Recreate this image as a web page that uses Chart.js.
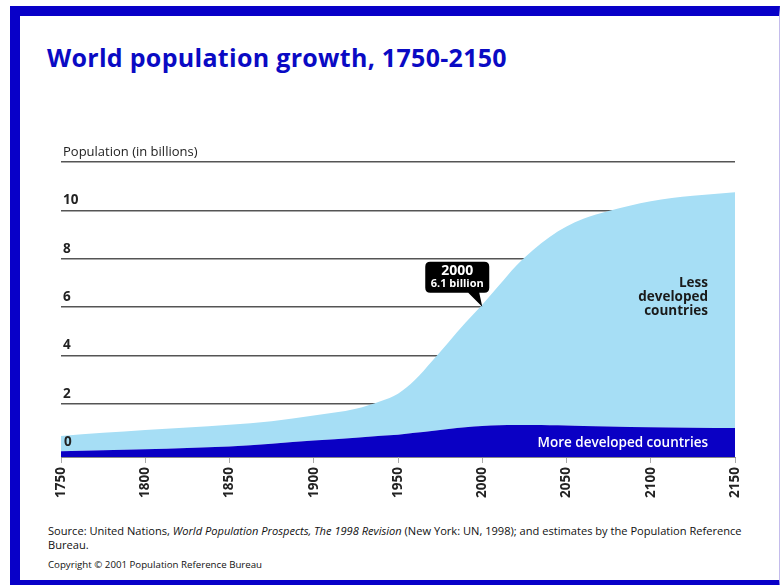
<!DOCTYPE html>
<html>
<head>
<meta charset="utf-8">
<script src="https://cdn.jsdelivr.net/npm/chart.js@4.4.1/dist/chart.umd.min.js"></script>
<style>
  html, body { margin: 0; padding: 0; background: #fff; }
  body { width: 780px; height: 585px; position: relative; overflow: hidden; font-family: "Open Sans", sans-serif; }
  #frame {
    position: absolute; left: 10px; top: 6px; width: 759px; height: 564px;
    border-left: 10px solid #0800c8; border-top: 10px solid #0800c8;
    border-bottom: 10px solid #0800c8; border-right: 1px solid #c4bcec;
  }
  #title {
    position: absolute; left: 47px; top: 43px; margin: 0;
    font-size: 25px; font-weight: bold; color: #0a0ac4; line-height: 28px; white-space: nowrap;
    letter-spacing: 0.3px;
  }
  #source {
    position: absolute; left: 48px; top: 524px; font-size: 11.1px; line-height: 14px; color: #111;
  }
  #copyright {
    position: absolute; left: 48px; top: 559px; font-size: 9.7px; line-height: 12px; color: #111;
  }
  canvas { position: absolute; left: 0; top: 0; }
</style>
</head>
<body>
<div id="frame"></div>
<div id="title">World population growth, 1750-2150</div>
<div id="source"><span style="white-space:nowrap">Source: United Nations, <i>World Population Prospects, The 1998 Revision</i> (New York: UN, 1998); and estimates by the Population Reference</span><br>Bureau.</div>
<div id="copyright">Copyright © 2001 Population Reference Bureau</div>
<canvas id="popChart" width="780" height="585"></canvas>
<script>
// values, billions
var years = [1750, 1775, 1800, 1825, 1850, 1875, 1900, 1925, 1940, 1950, 1960, 1970, 1980, 1990,
             2000, 2010, 2020, 2030, 2040, 2050, 2060, 2075, 2100, 2125, 2150];
var worldTotal = [0.67, 0.80, 0.92, 1.02, 1.13, 1.28, 1.52, 1.80, 2.12, 2.42, 2.98, 3.75, 4.55, 5.35,
                  6.10, 6.90, 7.70, 8.35, 8.90, 9.33, 9.65, 9.97, 10.38, 10.60, 10.75];
var moreDeveloped = [0.04, 0.08, 0.12, 0.17, 0.23, 0.35, 0.48, 0.60, 0.68, 0.72, 0.80, 0.88, 0.96, 1.03,
                     1.08, 1.11, 1.12, 1.12, 1.11, 1.10, 1.08, 1.06, 1.03, 1.01, 1.00];
var yearTicks = [1750, 1800, 1850, 1900, 1950, 2000, 2050, 2100, 2150];
var popTicks = [0, 2, 4, 6, 8, 10, 12];
var calloutYear = 2000;
var calloutValue = 6.1;

var DARK = '#0a00c4';
var LIGHT = '#a6def5';
var FONT = '"Open Sans", sans-serif';

function points(vals) {
    return years.map(function (yr, i) { return { x: yr, y: vals[i] }; });
}

var labelsPlugin = {
    id: 'labels',
    afterDatasetsDraw: function (chart) {
        var ctx = chart.ctx;
        var xs = chart.scales.x, ys = chart.scales.y;
        ctx.save();
        // the 0 tick label sits on top of the fill
        ctx.textAlign = 'left';
        ctx.textBaseline = 'middle';
        ctx.font = 'bold 13.5px ' + FONT;
        ctx.fillStyle = '#222';
        ctx.fillText('0', chart.chartArea.left + 3, ys.getPixelForValue(0) - 10);

        // area labels
        ctx.textAlign = 'right';
        ctx.font = 'bold 13.5px ' + FONT;
        ctx.fillStyle = '#1a1a1a';
        ctx.fillText('Less', 708, 283);
        ctx.fillText('developed', 708, 297);
        ctx.fillText('countries', 708, 311);
        ctx.fillStyle = '#ffffff';
        ctx.font = '600 13.5px ' + FONT;
        ctx.fillText('More developed countries', 708, 443);

        // callout for 2000
        var tx = xs.getPixelForValue(calloutYear);
        var ty = ys.getPixelForValue(calloutValue);
        var left = tx - 57, top = ty - 43, w = 64, h = 31, r = 5;
        ctx.fillStyle = '#000';
        ctx.beginPath();
        ctx.moveTo(left + r, top);
        ctx.lineTo(left + w - r, top);
        ctx.quadraticCurveTo(left + w, top, left + w, top + r);
        ctx.lineTo(left + w, top + h - r);
        ctx.quadraticCurveTo(left + w, top + h, left + w - r, top + h);
        ctx.lineTo(tx - 3, top + h);
        ctx.lineTo(tx, ty + 2);
        ctx.lineTo(tx - 14, top + h);
        ctx.lineTo(left + r, top + h);
        ctx.quadraticCurveTo(left, top + h, left, top + h - r);
        ctx.lineTo(left, top + r);
        ctx.quadraticCurveTo(left, top, left + r, top);
        ctx.closePath();
        ctx.fill();
        ctx.fillStyle = '#fff';
        ctx.textAlign = 'center';
        ctx.font = 'bold 14px ' + FONT;
        ctx.fillText(String(calloutYear), left + w / 2, top + 9);
        ctx.font = 'bold 11px ' + FONT;
        ctx.fillText(calloutValue + ' billion', left + w / 2, top + 22);
        ctx.restore();
    }
};

new Chart(document.getElementById('popChart').getContext('2d'), {
    type: 'line',
    data: {
        datasets: [{
            label: 'More developed countries',
            data: points(moreDeveloped),
            backgroundColor: DARK,
            borderWidth: 0,
            pointRadius: 0,
            fill: 'start',
            cubicInterpolationMode: 'monotone'
        }, {
            label: 'Less developed countries',
            data: points(worldTotal),
            backgroundColor: LIGHT,
            borderWidth: 0,
            pointRadius: 0,
            fill: '-1',
            cubicInterpolationMode: 'monotone'
        }]
    },
    options: {
        responsive: false,
        animation: false,
        layout: { padding: { left: 61, right: 45, top: 162, bottom: 80 } },
        plugins: { legend: { display: false }, tooltip: { enabled: false } },
        scales: {
            x: {
                type: 'linear',
                min: 1750,
                max: 2150,
                afterBuildTicks: function (s) { s.ticks = yearTicks.map(function (v) { return { value: v }; }); },
                afterFit: function (s) { s.height = 48; },
                ticks: {
                    minRotation: 90,
                    maxRotation: 90,
                    autoSkip: false,
                    padding: 4,
                    color: '#222',
                    font: { family: FONT, size: 13.5, weight: 'bold' },
                    callback: function (v) { return String(v); }
                },
                grid: { drawOnChartArea: false, drawTicks: true, tickLength: 6, color: '#aaa' },
                border: { display: true, color: '#888' }
            },
            y: {
                min: -0.2,
                max: 12,
                afterBuildTicks: function (s) { s.ticks = popTicks.map(function (v) { return { value: v }; }); },
                afterFit: function (s) { s.width = 0; },
                ticks: {
                    mirror: true,
                    padding: 2,
                    labelOffset: -10,
                    color: '#222',
                    font: function (c) {
                        if (c.tick && c.tick.value === 12) return { family: FONT, size: 13, weight: 'normal' };
                        return { family: FONT, size: 13.5, weight: 'bold' };
                    },
                    callback: function (v) {
                        if (v === 0) return '';
                        return v === 12 ? 'Population (in billions)' : String(v);
                    }
                },
                grid: {
                    drawTicks: false,
                    lineWidth: 1.5,
                    color: function (c) { return c.tick && c.tick.value === 0 ? 'rgba(0,0,0,0)' : '#555'; }
                },
                border: { display: false }
            }
        }
    },
    plugins: [labelsPlugin]
});
</script>
</body>
</html>
